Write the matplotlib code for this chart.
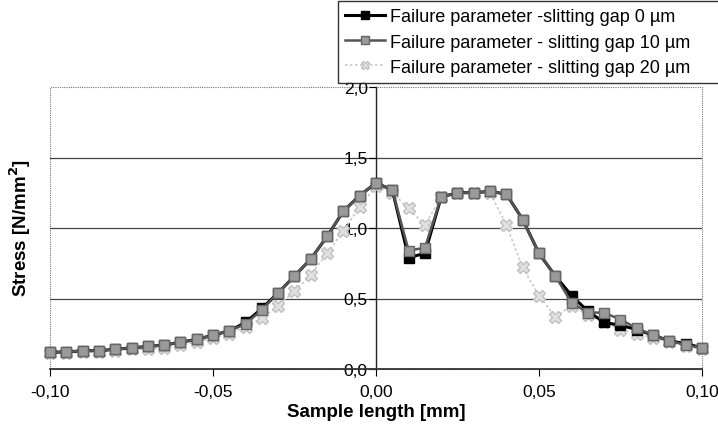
import matplotlib
matplotlib.use("Agg")
import matplotlib.pyplot as plt
from matplotlib.ticker import FuncFormatter, MultipleLocator
from matplotlib.patches import Rectangle

x = [-0.100, -0.095, -0.090, -0.085, -0.080, -0.075, -0.070, -0.065, -0.060, -0.055,
     -0.050, -0.045, -0.040, -0.035, -0.030, -0.025, -0.020, -0.015, -0.010, -0.005,
     0.000, 0.005, 0.010, 0.015, 0.020, 0.025, 0.030, 0.035, 0.040, 0.045,
     0.050, 0.055, 0.060, 0.065, 0.070, 0.075, 0.080, 0.085, 0.090, 0.095, 0.100]

gap0 = [0.12, 0.12, 0.13, 0.13, 0.14, 0.15, 0.16, 0.17, 0.19, 0.21,
        0.24, 0.27, 0.33, 0.43, 0.54, 0.66, 0.78, 0.94, 1.12, 1.23,
        1.32, 1.27, 0.79, 0.82, 1.22, 1.25, 1.25, 1.26, 1.24, 1.06,
        0.82, 0.66, 0.52, 0.41, 0.33, 0.31, 0.28, 0.24, 0.20, 0.18, 0.15]

gap10 = [0.12, 0.12, 0.13, 0.13, 0.14, 0.15, 0.16, 0.17, 0.19, 0.21,
         0.24, 0.27, 0.32, 0.42, 0.54, 0.66, 0.78, 0.94, 1.12, 1.23,
         1.32, 1.27, 0.84, 0.86, 1.22, 1.25, 1.25, 1.26, 1.24, 1.06,
         0.82, 0.66, 0.47, 0.40, 0.40, 0.35, 0.29, 0.24, 0.20, 0.17, 0.15]

gap20 = [0.11, 0.11, 0.12, 0.12, 0.13, 0.14, 0.14, 0.15, 0.17, 0.19,
         0.22, 0.25, 0.30, 0.36, 0.45, 0.55, 0.67, 0.82, 0.98, 1.15,
         1.30, 1.25, 1.14, 1.02, 1.22, 1.25, 1.25, 1.25, 1.02, 0.72,
         0.52, 0.37, 0.45, 0.38, 0.33, 0.28, 0.25, 0.22, 0.19, 0.16, 0.14]

labels = ["Failure parameter -slitting gap 0 \u00b5m",
          "Failure parameter - slitting gap 10 \u00b5m",
          "Failure parameter - slitting gap 20 \u00b5m"]

plt.rcParams['font.family'] = ['Liberation Sans', 'DejaVu Sans']

fig = plt.figure(figsize=(7.18, 4.35), dpi=100)
ax = fig.add_axes([50/718, 65/435, 652/718, 282/435])

ax.set_xlim(-0.10, 0.10)
ax.set_ylim(0.0, 2.0)

# dotted plot-area frame
for s in ['top', 'right']:
    ax.spines[s].set_visible(False)
ax.add_patch(Rectangle((0, 0), 1, 1, transform=ax.transAxes, fill=False,
                       edgecolor='#777777', linestyle=(0, (1, 1)), linewidth=0.8,
                       zorder=0.5, clip_on=False))

# horizontal grid
for gy in [0.5, 1.0, 1.5]:
    ax.axhline(gy, color='#444444', linewidth=0.9, zorder=1)

ax.spines['left'].set_position(('data', 0))
ax.spines['left'].set_color('#222222')
ax.spines['bottom'].set_color('#333333')
ax.spines['bottom'].set_linewidth(1.3)
ax.spines['left'].set_linewidth(1.0)

ax.yaxis.set_major_locator(MultipleLocator(0.5))
ax.xaxis.set_major_locator(MultipleLocator(0.05))
fmt_y = FuncFormatter(lambda v, p: f"{v:.1f}".replace('.', ','))
fmt_x = FuncFormatter(lambda v, p: f"{v:.2f}".replace('.', ',').replace('-0,00', '0,00'))
ax.yaxis.set_major_formatter(fmt_y)
ax.xaxis.set_major_formatter(fmt_x)
ax.tick_params(axis='y', direction='out', length=5, labelsize=12.5, pad=1)
ax.tick_params(axis='x', direction='out', length=5, labelsize=12.5, pad=6)

l20, = ax.plot(x, gap20, color='#c8c8c8', linestyle=(0, (1.5, 1.5)), linewidth=1.2,
               marker='X', markersize=8, markerfacecolor='#e0e0e0',
               markeredgecolor='#c0c0c0', zorder=3, clip_on=False)
l10, = ax.plot(x, gap10, color='#555555', linewidth=1.8,
               marker='s', markersize=7, markerfacecolor='#9a9a9a',
               markeredgecolor='#666666', zorder=5, clip_on=False)
l0, = ax.plot(x, gap0, color='black', linewidth=2.2,
              marker='s', markersize=7, markerfacecolor='black',
              markeredgecolor='black', zorder=4, clip_on=False)

ax.set_xlabel("Sample length [mm]", fontsize=13.5, fontweight='bold', labelpad=3)
fig.text(20/718, 1 - 228/435, "Stress [N/mm$^\\mathbf{2}$]", rotation=90,
         ha='center', va='center', fontsize=13.5, fontweight='bold')

leg = fig.legend([l0, l10, l20], labels, loc='upper left',
                 bbox_to_anchor=(338/718, 0.995, 385/718, 0.0), mode='expand',
                 fontsize=13, frameon=True,
                 fancybox=False, edgecolor='black', handlelength=2.2,
                 handletextpad=0.3, borderpad=0.4, labelspacing=0.45,
                 borderaxespad=0, markerscale=0.8)
leg.get_frame().set_linewidth(1.0)

fig.savefig("out.png", dpi=100)
